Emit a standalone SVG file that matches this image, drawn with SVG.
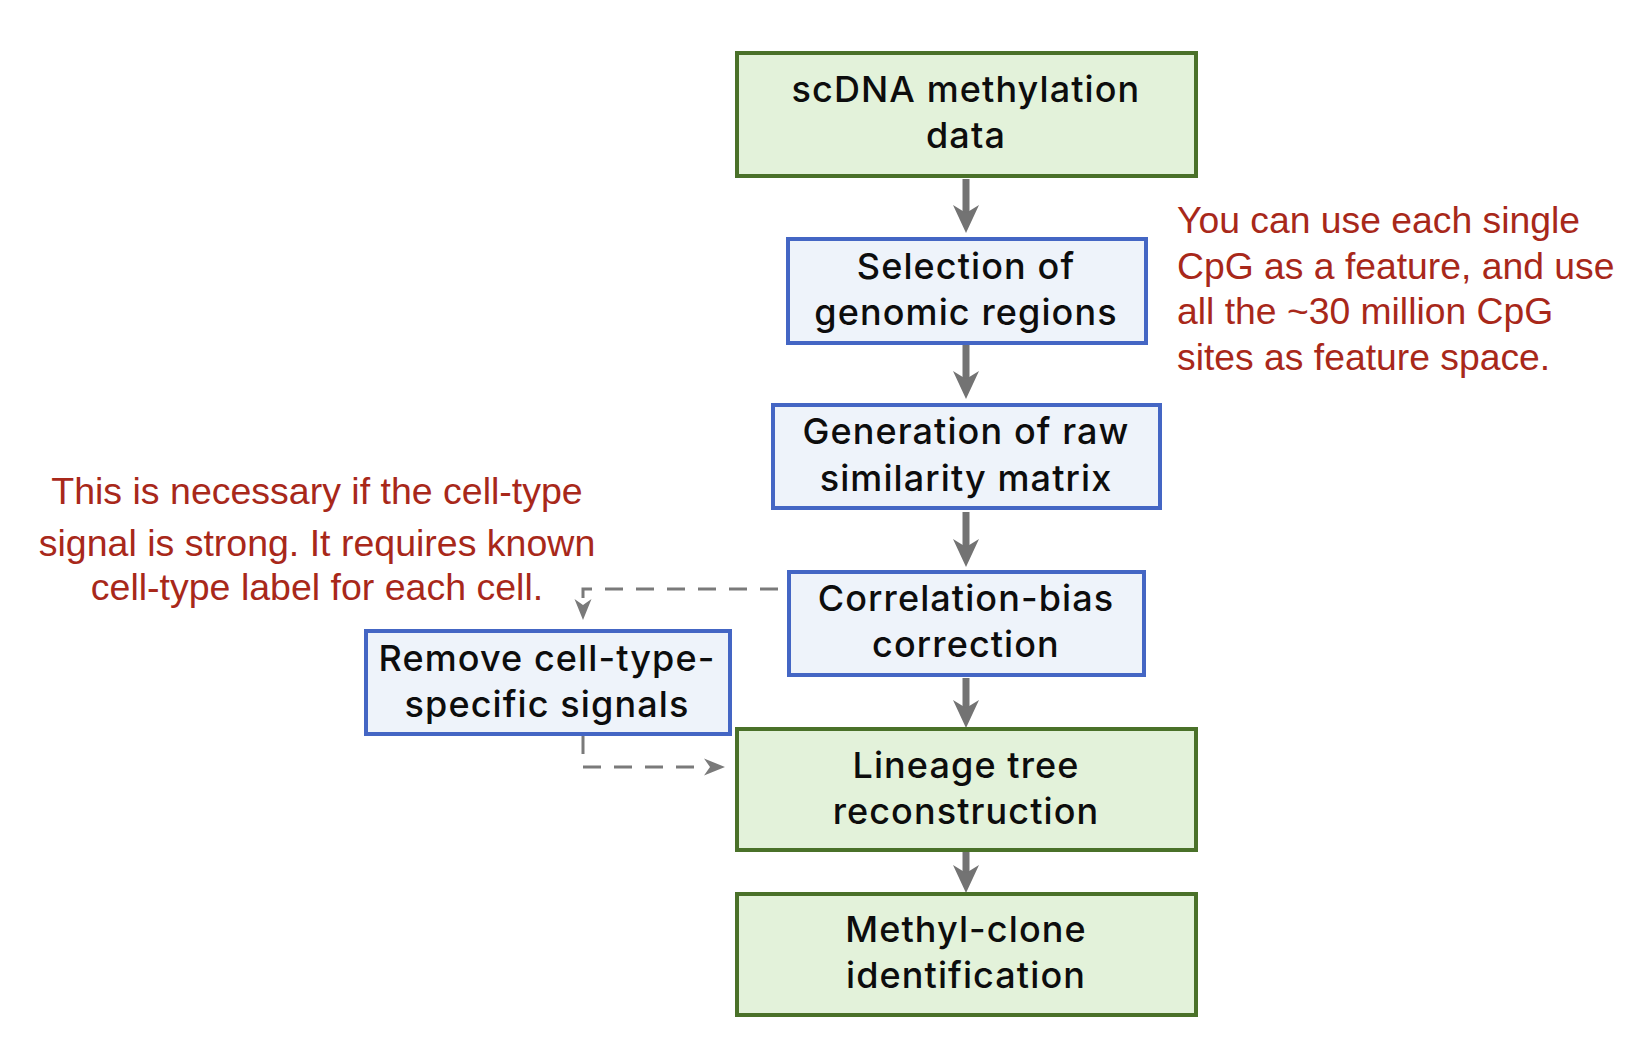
<svg xmlns="http://www.w3.org/2000/svg" width="1648" height="1048" viewBox="0 0 1648 1048">
<style>
.green{fill:#e3f2da;stroke:#4a7129;stroke-width:4}
.blue{fill:#eef3fa;stroke:#4466c4;stroke-width:4}
.lbl{font-family:Inter,"Noto Sans",sans-serif;font-size:36px;font-weight:500;letter-spacing:1.1px;fill:#0d0d0d;text-anchor:middle;font-variant-ligatures:none}
.note{font-family:"Liberation Sans",Arial,sans-serif;fill:#a8281a}
.solid{stroke:#737373;stroke-width:7;fill:none;marker-end:url(#ah)}
.dash{stroke:#7a7a7a;stroke-width:3;fill:none;stroke-dasharray:18 13;marker-end:url(#dh)}
</style>
<defs>
<marker id="ah" markerUnits="userSpaceOnUse" markerWidth="30" markerHeight="28" refX="10" refY="13" orient="auto" overflow="visible">
<path d="M0,0 L28,13 L0,26 L8,13 Z" fill="#737373"/>
</marker>
<marker id="dh" markerUnits="userSpaceOnUse" markerWidth="24" markerHeight="18" refX="3" refY="8.5" orient="auto" overflow="visible">
<path d="M0,0 L21,8.5 L0,17 L6,8.5 Z" fill="#7a7a7a"/>
</marker>
</defs>
<rect width="1648" height="1048" fill="#ffffff"/>
<g id="connectors">
<path class="solid" d="M966,179 V215"/>
<path class="solid" d="M966,345 V381"/>
<path class="solid" d="M966,512 V549"/>
<path class="solid" d="M966,678 V710"/>
<path class="solid" d="M966,852 V875"/>
<path class="dash" d="M778,589 H583 V602"/>
<path class="dash" d="M583,736 V767 H707"/>
</g>
<g id="n-scdna">
<rect class="green" x="737" y="53" width="459" height="123"/>
<text class="lbl" x="966" y="102">scDNA methylation</text>
<text class="lbl" x="966" y="148">data</text>
</g>
<g id="n-selection">
<rect class="blue" x="788" y="239" width="358" height="104"/>
<text class="lbl" x="966" y="279">Selection of</text>
<text class="lbl" x="966" y="325">genomic regions</text>
</g>
<g id="n-generation">
<rect class="blue" x="773" y="405" width="387" height="103"/>
<text class="lbl" x="966" y="444">Generation of raw</text>
<text class="lbl" x="966" y="491">similarity matrix</text>
</g>
<g id="n-correlation">
<rect class="blue" x="789" y="572" width="355" height="103"/>
<text class="lbl" x="966" y="611">Correlation-bias</text>
<text class="lbl" x="966" y="657">correction</text>
</g>
<g id="n-remove">
<rect class="blue" x="366" y="631" width="364" height="103"/>
<text class="lbl" x="547" y="671">Remove cell-type-</text>
<text class="lbl" x="547" y="717">specific signals</text>
</g>
<g id="n-lineage">
<rect class="green" x="737" y="729" width="459" height="121"/>
<text class="lbl" x="966" y="778">Lineage tree</text>
<text class="lbl" x="966" y="824">reconstruction</text>
</g>
<g id="n-methyl">
<rect class="green" x="737" y="894" width="459" height="121"/>
<text class="lbl" x="966" y="942">Methyl-clone</text>
<text class="lbl" x="966" y="988">identification</text>
</g>
<g id="note-left" class="note" font-size="37.5" text-anchor="middle">
<text x="317" y="504">This is necessary if the cell-type</text>
<text x="317" y="556">signal is strong. It requires known</text>
<text x="317" y="600">cell-type label for each cell.</text>
</g>
<g id="note-right" class="note" font-size="37.3">
<text x="1177" y="233">You can use each single</text>
<text x="1177" y="279">CpG as a feature, and use</text>
<text x="1177" y="324">all the ~30 million CpG</text>
<text x="1177" y="370">sites as feature space.</text>
</g>
</svg>
